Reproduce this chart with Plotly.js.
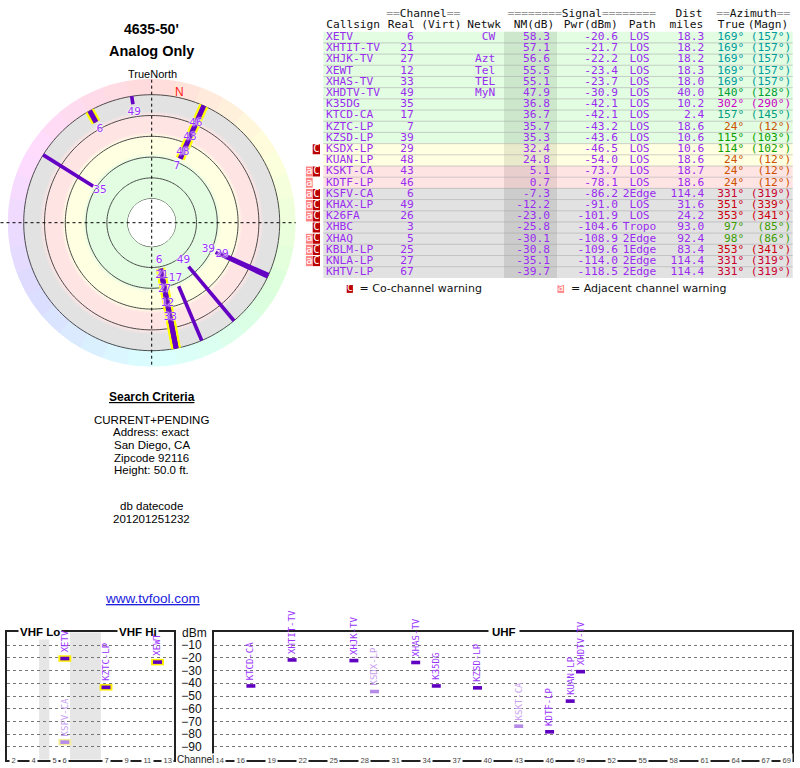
<!DOCTYPE html>
<html><head><meta charset="utf-8">
<script src="https://cdn.plot.ly/plotly-3.0.1.min.js"></script>
<style>html,body{margin:0;padding:0;background:#fff}#chart{width:800px;height:768px}</style>
</head><body><div id="chart"></div>
<script>
// ---------------- DATA ----------------
const callsigns = ['XETV','XHTIT-TV','XHJK-TV','XEWT','XHAS-TV','XHDTV-TV','K35DG','KTCD-CA','KZTC-LP','KZSD-LP','KSDX-LP','KUAN-LP','KSKT-CA','KDTF-LP','KSFV-CA','KHAX-LP','K26FA','XHBC','XHAQ','KBLM-LP','KNLA-LP','KHTV-LP'];
const realCh = [6,21,27,12,33,49,35,17,7,39,29,48,43,46,6,49,26,3,5,25,27,67];
const network = ['CW','','Azt','Tel','TEL','MyN','','','','','','','','','','','','','','','',''];
const nmDb = [58.3,57.1,56.6,55.5,55.1,47.9,36.8,36.7,35.7,35.3,32.4,24.8,5.1,0.7,-7.3,-12.2,-23.0,-25.8,-30.1,-30.8,-35.1,-39.7];
const pwrDbm = [-20.6,-21.7,-22.2,-23.4,-23.7,-30.9,-42.1,-42.1,-43.2,-43.6,-46.5,-54.0,-73.7,-78.1,-86.2,-91.0,-101.9,-104.6,-108.9,-109.6,-114.0,-118.5];
const pathType = ['LOS','LOS','LOS','LOS','LOS','LOS','LOS','LOS','LOS','LOS','LOS','LOS','LOS','LOS','2Edge','LOS','LOS','Tropo','2Edge','1Edge','2Edge','2Edge'];
const distMi = [18.3,18.2,18.2,18.3,18.0,40.0,10.2,2.4,18.6,10.6,10.6,18.6,18.7,18.6,114.4,31.6,24.2,93.0,92.4,83.4,114.4,114.4];
const azTrue = [169,169,169,169,169,140,302,157,24,115,114,24,24,24,331,351,353,97,98,353,331,331];
const azMagn = [157,157,157,157,157,128,290,145,12,103,102,12,12,12,319,339,341,85,86,341,319,319];
const coWarn = [0,0,0,0,0,0,0,0,0,0,1,0,1,0,1,1,1,1,1,1,1,0];
const adjWarn = [0,0,0,0,0,0,0,0,0,0,0,0,1,1,1,1,1,0,1,1,1,0];

const vhfCats = ['2','3','4','g1','5','6','g2','g3','g4','7','8','9','10','11','12','13'];
const vhfTickLabels = ['2','4','5','6','7','9','11','13'];
const uhfTickLabels = [14,16,19,22,25,28,31,34,37,40,43,46,49,52,55,58,61,64,67,69];
const dbmTicks = [-10,-20,-30,-40,-50,-60,-70,-80,-90];
const radarGrid = [80,60,40,20,0,-20];
const magDecl = 12;
const criteriaLines = ['CURRENT+PENDING','Address: exact','San Diego, CA','Zipcode 92116','Height: 50.0 ft.'];
const dbLines = ['db datecode','201201251232'];

// ---------------- HELPERS / STYLE ----------------
const W = 800, H = 768;
const PX = x => x / W, PY = y => 1 - y / H;
const idx = callsigns.map((_, i) => i);
const isVHF = ch => ch <= 13;
const PURPLE_TXT = '#9a2cf0', LINE_PURPLE = '#6400c4';
const MONO = 'DejaVu Sans Mono', SANS = 'Liberation Sans', DJS = 'DejaVu Sans';

const cGreen = [226,253,226], cYellow = [255,255,226], cPink = [255,228,228], cGray = [226,226,226];
const rgb = c => `rgb(${c.map(Math.round).join(',')})`;
const mix = (a, b, t) => a.map((v, k) => v + (b[k] - v) * t);
function zoneColor(nm) { return nm >= 35 ? cGreen : nm >= 15 ? cYellow : nm >= 0 ? cPink : cGray; }
function shade(c) { return c.map(v => v - 22); }
function azColor(a) {
  let h = a;
  if (a >= 150 && a < 200) h = a + 12;
  else if (a >= 320) h = 345 + (a - 330) * 0.5;
  const l = (a > 50 && a < 200) ? 31 : 40;
  return `hsl(${h},100%,${l}%)`;
}

const traces = [];
const annotations = [];
const shapes = [];
function note(o) { annotations.push(Object.assign({ xanchor: 'center', yanchor: 'middle', showarrow: false }, o)); }

// ---------------- TABLE (x3/y3 in pixel-like units) ----------------
const T = { left: 323.3, right: 792.7, nmL: 504, nmR: 557, rowTop: 37.3, rowH: 11.19 };
const yIdxTop = -3, yIdxBot = 23.2;
const tblDomain = [PY(T.rowTop + T.rowH * yIdxBot), PY(T.rowTop + T.rowH * yIdxTop)];

traces.push({ type: 'bar', orientation: 'h', xaxis: 'x3', yaxis: 'y3', y: idx, x: idx.map(() => T.right - T.left), base: T.left, width: 1,
  marker: { color: nmDb.map(v => rgb(zoneColor(v))), line: { width: 0 } }, hoverinfo: 'skip' });
traces.push({ type: 'bar', orientation: 'h', xaxis: 'x3', yaxis: 'y3', y: idx, x: idx.map(() => T.nmR - T.nmL), base: T.nmL, width: 1,
  marker: { color: nmDb.map(v => rgb(shade(zoneColor(v)))), line: { width: 0 } }, hoverinfo: 'skip' });
const sepX = [], sepY = [];
idx.slice(1).forEach(i => { sepX.push(T.left, T.right, null); sepY.push(i - 0.5, i - 0.5, null); });
traces.push({ type: 'scatter', mode: 'lines', xaxis: 'x3', yaxis: 'y3', x: sepX, y: sepY, line: { color: 'rgba(150,150,150,0.45)', width: 1 }, hoverinfo: 'skip' });

const coRows = idx.filter(i => coWarn[i]), adjRows = idx.filter(i => adjWarn[i]);
traces.push({ type: 'bar', orientation: 'h', xaxis: 'x3', yaxis: 'y3', y: coRows, x: coRows.map(() => 7.3), base: 312.7, width: 0.9,
  marker: { color: '#bb0000', line: { width: 0 } }, hoverinfo: 'skip' });
traces.push({ type: 'bar', orientation: 'h', xaxis: 'x3', yaxis: 'y3', y: adjRows, x: adjRows.map(() => 6.8), base: 305.9, width: 0.9,
  marker: { color: '#ff8585', line: { width: 0 } }, hoverinfo: 'skip' });
const legY = 22.49;
traces.push({ type: 'bar', orientation: 'h', xaxis: 'x3', yaxis: 'y3', y: [legY], x: [6.2], base: 346.7, width: 0.7,
  marker: { color: '#bb0000', line: { width: 0 } }, hoverinfo: 'skip' });
traces.push({ type: 'bar', orientation: 'h', xaxis: 'x3', yaxis: 'y3', y: [legY], x: [6.6], base: 557.5, width: 0.7,
  marker: { color: '#ff8585', line: { width: 0 } }, hoverinfo: 'skip' });

function textTrace(xpx, ys, texts, pos, color, size, family) {
  return { type: 'scatter', mode: 'text', xaxis: 'x3', yaxis: 'y3', x: ys.map(() => xpx), y: ys, text: texts,
    textposition: pos, textfont: { family: family || MONO, size: size || 11.2, color: color }, hoverinfo: 'skip', cliponaxis: false };
}
const fmt = v => v.toFixed(1);
traces.push(textTrace(326, idx, callsigns, 'middle right', PURPLE_TXT));
traces.push(textTrace(413.8, idx, realCh.map(String), 'middle left', PURPLE_TXT));
traces.push(textTrace(495.2, idx, network, 'middle left', PURPLE_TXT));
traces.push(textTrace(550, idx, nmDb.map(fmt), 'middle left', PURPLE_TXT));
traces.push(textTrace(618, idx, pwrDbm.map(fmt), 'middle left', PURPLE_TXT));
traces.push(textTrace(639.5, idx, pathType, 'middle center', PURPLE_TXT));
traces.push(textTrace(704.3, idx, distMi.map(fmt), 'middle left', PURPLE_TXT));
traces.push(textTrace(744.2, idx, azTrue.map(a => a + '°'), 'middle left', azTrue.map(azColor)));
traces.push(textTrace(791.2, idx, azMagn.map(a => '(' + a + '°)'), 'middle left', azTrue.map(azColor)));
traces.push(textTrace(316.4, coRows, coRows.map(() => 'C'), 'middle center', '#ffffff', 10.5));
traces.push(textTrace(309.3, adjRows, adjRows.map(() => 'a'), 'middle center', '#ffffff', 11));
traces.push(textTrace(349.8, [legY], ['C'], 'middle center', '#ffffff', 9.5));
traces.push(textTrace(560.8, [legY], ['a'], 'middle center', '#ffffff', 10));
traces.push(textTrace(359.5, [legY], ['= Co-channel warning'], 'middle right', '#111', 11, DJS));
traces.push(textTrace(571, [legY], ['= Adjacent channel warning'], 'middle right', '#111', 11, DJS));

const g = s => `<span style="color:#9a9a9a">${s}</span>`;
const head1 = [[386.2, g('==') + 'Channel' + g('==')], [507.8, g('========') + 'Signal' + g('========')], [675.5, 'Dist'], [716.2, g('==') + 'Azimuth' + g('==')]];
const head2 = [[326.2, 'Callsign'], [387.8, 'Real'], [421.2, '(Virt)'], [467.2, 'Netwk'], [513.8, 'NM(dB)'], [563.8, 'Pwr(dBm)'], [628.8, 'Path'], [669.5, 'miles'], [717.8, 'True'], [747.8, '(Magn)']];
traces.push({ type: 'scatter', mode: 'text', xaxis: 'x3', yaxis: 'y3', x: head1.map(h => h[0]), y: head1.map(() => -2.02), text: head1.map(h => h[1]),
  textposition: 'middle right', textfont: { family: MONO, size: 11.2, color: '#111' }, hoverinfo: 'skip', cliponaxis: false });
traces.push({ type: 'scatter', mode: 'text', xaxis: 'x3', yaxis: 'y3', x: head2.map(h => h[0]), y: head2.map(() => -1.1), text: head2.map(h => h[1]),
  textposition: 'middle right', textfont: { family: MONO, size: 11.2, color: '#111' }, hoverinfo: 'skip', cliponaxis: false });

// ---------------- RADAR (polar) ----------------
const R_OUT = -35.4, R_IN = 80, R_EDGE = -20;
const segTheta = [], segW = [];
for (let t = 5; t < 360; t += 10) { segTheta.push(t); segW.push(10); }
function ringTrace(from, to, colorFn) {
  const cols = segTheta.map(colorFn);
  return { type: 'barpolar', subplot: 'polar', theta: segTheta, width: segW, base: segTheta.map(() => from), r: segTheta.map(() => to - from),
    marker: { color: cols, line: { color: cols, width: 0.8 } }, hoverinfo: 'skip' };
}
const stops = [[80, cGreen], [40, cGreen], [36, cYellow], [19.5, cYellow], [15.5, cPink], [-1, cPink], [-5, cGray], [R_EDGE, cGray]];
for (let s = 0; s < stops.length - 1; s++) {
  const [a, ca] = stops[s], [b, cb] = stops[s + 1];
  if (ca === cb) traces.push(ringTrace(b, a, () => rgb(ca)));
  else {
    const n = 6;
    for (let k = 0; k < n; k++) {
      const hi = a + (b - a) * k / n, lo = a + (b - a) * (k + 1) / n;
      const c = rgb(mix(ca, cb, (k + 0.5) / n));
      traces.push(ringTrace(lo, hi, () => c));
    }
  }
}
traces.push(ringTrace(R_OUT, R_EDGE, t => `hsl(${t},100%,93%)`));
const circTheta = []; for (let t = 0; t <= 360; t += 2) circTheta.push(t);
radarGrid.forEach(v => traces.push({ type: 'scatterpolar', subplot: 'polar', mode: 'lines', r: circTheta.map(() => v), theta: circTheta,
  line: { color: '#4a4a4a', width: 1 }, hoverinfo: 'skip' }));

const radar = idx.filter(i => nmDb[i] > R_EDGE);
function segs(list) {
  const r = [], th = [];
  list.forEach(i => { r.push(nmDb[i], R_EDGE, null); th.push(azTrue[i], azTrue[i], null); });
  return { r, theta: th };
}
const rVHF = radar.filter(i => isVHF(realCh[i])), rUHF = radar.filter(i => !isVHF(realCh[i]));
traces.push(Object.assign({ type: 'scatterpolar', subplot: 'polar', mode: 'lines', line: { color: '#ffff00', width: 9.5 }, hoverinfo: 'skip' }, segs(rVHF)));
traces.push(Object.assign({ type: 'scatterpolar', subplot: 'polar', mode: 'lines', line: { color: LINE_PURPLE, width: 3.6 }, hoverinfo: 'skip' }, segs(rUHF)));
traces.push(Object.assign({ type: 'scatterpolar', subplot: 'polar', mode: 'lines', line: { color: LINE_PURPLE, width: 5 }, hoverinfo: 'skip' }, segs(rVHF)));

const pxPerDb = 120 / (R_IN - R_OUT);
const lblOff = 8 / pxPerDb, lblGap = 14.6 / pxPerDb;
const placed = [];
const lblR = {};
radar.slice().sort((a, b) => nmDb[b] - nmDb[a]).forEach(i => {
  let v = nmDb[i] + lblOff;
  const grp = placed.filter(p => Math.abs(azTrue[p] - azTrue[i]) <= 3);
  if (grp.length) v = Math.min(v, Math.min(...grp.map(p => lblR[p])) - lblGap);
  lblR[i] = v; placed.push(i);
});
traces.push({ type: 'scatterpolar', subplot: 'polar', mode: 'text', r: radar.map(i => lblR[i]), theta: radar.map(i => azTrue[i]),
  text: radar.map(i => String(realCh[i])), textposition: 'middle center',
  textfont: { family: DJS, size: 10.5, color: '#9933ff', shadow: '0 0 2px #fff, 0 0 2px #fff, 0 0 1px #fff' }, hoverinfo: 'skip', cliponaxis: false });
traces.push({ type: 'scatterpolar', subplot: 'polar', mode: 'text', r: [-24.8], theta: [magDecl], text: ['N'], textposition: 'middle center',
  textfont: { family: SANS, size: 12, color: '#ff2020' }, hoverinfo: 'skip', cliponaxis: false });

const PC = { x: 151.7, y: 222.7, r: 144 };
const polarDomain = { x: [PX(PC.x - PC.r), PX(PC.x + PC.r)], y: [PY(PC.y + PC.r), PY(PC.y - PC.r)] };
shapes.push({ type: 'line', xref: 'paper', yref: 'paper', x0: PX(0.5), x1: PX(PC.x + PC.r), y0: PY(PC.y), y1: PY(PC.y), line: { color: '#000', width: 1, dash: 'dot' }, layer: 'above' });
shapes.push({ type: 'line', xref: 'paper', yref: 'paper', x0: PX(PC.x), x1: PX(PC.x), y0: PY(PC.y - PC.r + 1), y1: PY(PC.y + PC.r), line: { color: '#000', width: 1, dash: 'dot' }, layer: 'above' });

// ---------------- SPECTRUM ----------------
const spec = idx.filter(i => pwrDbm[i] > -90);
const sV = spec.filter(i => isVHF(realCh[i])), sU = spec.filter(i => !isVHF(realCh[i]));
const markCol = i => coWarn[i] ? '#b48be6' : '#6000c0';
const labCol = i => coWarn[i] ? '#c8a0f0' : '#9933ff';
const yelCol = i => coWarn[i] ? '#f4ee9c' : '#ffee00';
const catPos = c => vhfCats.indexOf(String(c));
function markTrace(list, xa, ya, xf, sz, lw, colf) {
  const cols = list.map(colf);
  return { type: 'scatter', mode: 'markers', xaxis: xa, yaxis: ya, x: list.map(xf), y: list.map(i => pwrDbm[i]),
    marker: { symbol: 'line-ew', size: sz, color: cols, line: { width: lw, color: cols } }, hoverinfo: 'skip', cliponaxis: false };
}
traces.push(markTrace(sV, 'x', 'y', i => String(realCh[i]), 9.2, 6.5, yelCol));
traces.push(markTrace(sV, 'x', 'y', i => String(realCh[i]), 6.4, 3.6, markCol));
traces.push(markTrace(sU, 'x2', 'y2', i => realCh[i], 6.4, 3.6, markCol));

const VHF_DOM = [PX(6.7), PX(174)], UHF_DOM = [PX(214), PX(792.3)];
const SPEC_Y = [PY(759.7), PY(632.3)];

shapes.push({ type: 'rect', xref: 'x', yref: 'y', x0: catPos('g1') - 0.5, x1: catPos('g1') + 0.5, y0: -100, y1: 0, fillcolor: '#e6e6e6', line: { width: 0 }, layer: 'below' });
shapes.push({ type: 'rect', xref: 'x', yref: 'y', x0: catPos('g2') - 0.5, x1: catPos('g4') + 0.5, y0: -100, y1: 0, fillcolor: '#e6e6e6', line: { width: 0 }, layer: 'below' });

vhfTickLabels.forEach(c => note({ xref: 'x', yref: 'y', x: catPos(c), y: -100, text: c, bgcolor: '#fff', borderpad: 1.5,
  font: { family: SANS, size: 7.5, color: '#444' } }));
uhfTickLabels.forEach(c => note({ xref: 'x2', yref: 'y2', x: c, y: -100, text: String(c), bgcolor: '#fff', borderpad: 1.5,
  font: { family: SANS, size: 7.5, color: '#444' } }));
note({ xref: 'paper', yref: 'paper', x: PX(195.5), y: PY(759.5), text: 'Channel', bgcolor: '#fff', borderpad: 0, font: { family: SANS, size: 10, color: '#222' } });
note({ xref: 'paper', yref: 'paper', x: PX(194), y: PY(632.5), text: 'dBm', font: { family: SANS, size: 12, color: '#111' } });
note({ xref: 'paper', yref: 'paper', x: PX(39.5), y: PY(632.3), text: '<b>VHF Lo</b>', bgcolor: '#fff', borderpad: 1, font: { family: SANS, size: 11.5, color: '#000' } });
note({ xref: 'paper', yref: 'paper', x: PX(138), y: PY(632.3), text: '<b>VHF Hi</b>', bgcolor: '#fff', borderpad: 1, font: { family: SANS, size: 11.5, color: '#000' } });
note({ xref: 'paper', yref: 'paper', x: PX(503.5), y: PY(632.3), text: '<b>UHF</b>', bgcolor: '#fff', borderpad: 3, font: { family: SANS, size: 11.5, color: '#000' } });

sV.forEach(i => annotations.push({ xref: 'x', yref: 'y', x: catPos(realCh[i]), y: pwrDbm[i], yshift: 5, yanchor: 'bottom', xanchor: 'center', textangle: -90,
  text: callsigns[i], showarrow: false, borderpad: 0, font: { family: MONO, size: 9, color: labCol(i) } }));
sU.forEach(i => annotations.push({ xref: 'x2', yref: 'y2', x: realCh[i], y: pwrDbm[i], yshift: 5, yanchor: 'bottom', xanchor: 'center', textangle: -90,
  text: callsigns[i], showarrow: false, borderpad: 0, font: { family: MONO, size: 9, color: labCol(i) } }));

// ---------------- LEFT TEXT BLOCK ----------------
const ctr = PX(151.5);
note({ xref: 'paper', yref: 'paper', x: ctr, y: PY(29), text: "<b>4635-50'</b>", font: { family: SANS, size: 14, color: '#000' } });
note({ xref: 'paper', yref: 'paper', x: ctr, y: PY(51), text: '<b>Analog Only</b>', font: { family: SANS, size: 14.5, color: '#000' } });
note({ xref: 'paper', yref: 'paper', x: PX(152), y: PY(74.3), text: 'TrueNorth', font: { family: SANS, size: 11, color: '#000' } });
note({ xref: 'paper', yref: 'paper', x: ctr, y: PY(397.3), text: '<b>Search Criteria</b>', font: { family: SANS, size: 12, color: '#000', lineposition: 'under' } });
criteriaLines.forEach((t, k) => note({ xref: 'paper', yref: 'paper', x: ctr, y: PY(419.7 + 12.65 * k), text: t, font: { family: SANS, size: 11.5, color: '#000' } }));
dbLines.forEach((t, k) => note({ xref: 'paper', yref: 'paper', x: ctr, y: PY(506 + 13.3 * k), text: t, font: { family: SANS, size: 11.5, color: '#000' } }));
note({ xref: 'paper', yref: 'paper', x: PX(152), y: PY(598), text: 'www.tvfool.com', font: { family: SANS, size: 13.5, color: '#2020dd', lineposition: 'under' } });

// ---------------- LAYOUT ----------------
const specY = { domain: SPEC_Y, range: [-100, 0], tickvals: dbmTicks, showgrid: true, gridcolor: '#777', gridwidth: 1, griddash: 'dot', zeroline: false,
  showline: true, mirror: true, linecolor: '#222', linewidth: 2, fixedrange: true };
const layout = {
  width: W, height: H, margin: { l: 0, r: 0, t: 0, b: 0, pad: 0 }, paper_bgcolor: '#fff', plot_bgcolor: 'rgba(0,0,0,0)',
  showlegend: false, barmode: 'overlay', font: { family: SANS },
  xaxis: { domain: VHF_DOM, type: 'category', categoryorder: 'array', categoryarray: vhfCats, range: [-0.64, 15.6], showticklabels: false, ticks: '',
    showgrid: false, showline: true, mirror: true, linecolor: '#222', linewidth: 2, anchor: 'y', fixedrange: true },
  yaxis: Object.assign({}, specY, { anchor: 'x', showticklabels: false, ticks: '' }),
  xaxis2: { domain: UHF_DOM, range: [13.42, 69.56], showticklabels: false, ticks: '', showgrid: false, zeroline: false,
    showline: true, mirror: true, linecolor: '#222', linewidth: 2, anchor: 'y2', fixedrange: true },
  yaxis2: Object.assign({}, specY, { anchor: 'x2', ticks: 'outside', ticklen: 8, tickcolor: 'rgba(0,0,0,0)', tickfont: { family: SANS, size: 12, color: '#111' } }),
  xaxis3: { domain: [0, 1], range: [0, W], visible: false, anchor: 'y3', fixedrange: true },
  yaxis3: { domain: tblDomain, range: [yIdxBot, yIdxTop], visible: false, anchor: 'x3', fixedrange: true },
  polar: { domain: polarDomain, hole: 24 / 144, bgcolor: 'rgba(0,0,0,0)', barmode: 'overlay',
    radialaxis: { range: [R_IN, R_OUT], visible: false },
    angularaxis: { rotation: 90, direction: 'clockwise', visible: false } },
  shapes, annotations
};
Plotly.newPlot('chart', traces, layout, { staticPlot: true, displayModeBar: false });
</script></body></html>
